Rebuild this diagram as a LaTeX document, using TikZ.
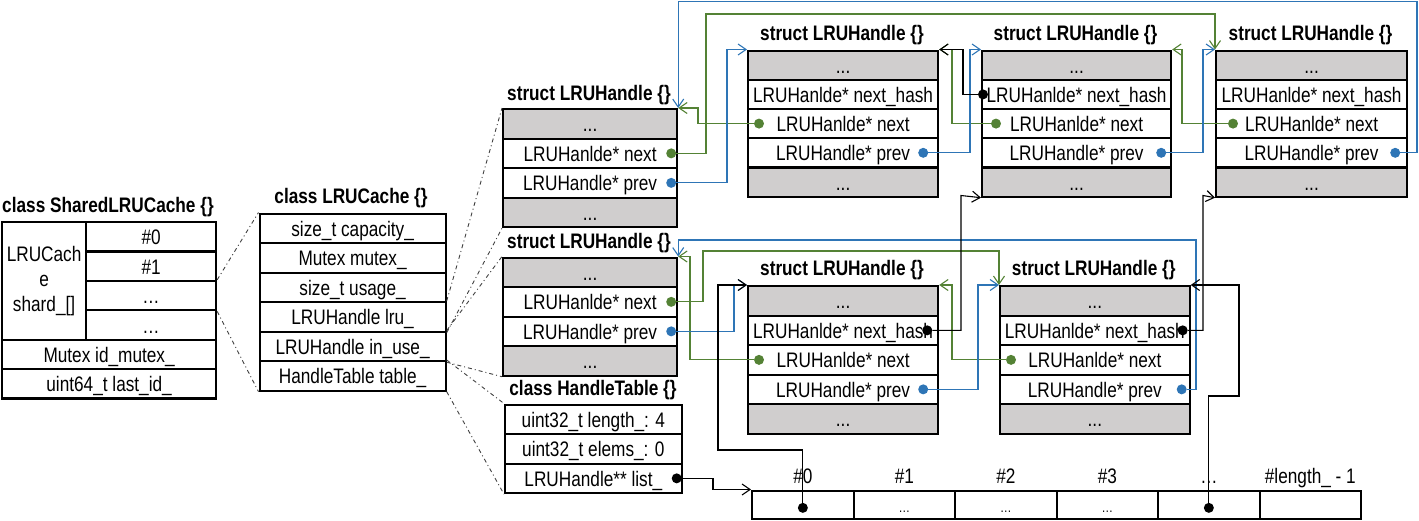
\documentclass[tikz,border=0pt]{standalone}
\usepackage{fontspec}
\setmainfont{Liberation Sans}[FakeStretch=0.82]
\usepackage{tikz}
\usetikzlibrary{arrows.meta,positioning}

\definecolor{cellgray}{RGB}{208,206,206}
\definecolor{nextgreen}{RGB}{84,130,53}
\definecolor{prevblue}{RGB}{46,117,182}

\tikzset{
  box/.style={draw, line width=2.2pt, inner sep=0pt, anchor=north west,
    font=\fontsize{21}{25}\selectfont},
  row/.style={box, minimum height=29.5pt, text height=18pt, text depth=2pt},
  filler/.style={row, fill=cellgray},
  title/.style={inner sep=0pt, font=\bfseries\fontsize{21}{25}\selectfont},
  dot/.style={circle, fill, inner sep=0pt, minimum size=10pt},
  link/.style={line width=1.1pt, -{Straight Barb[length=8pt,width=11pt]}},
  zoomline/.style={dash pattern=on 4pt off 3pt on 1pt off 3pt, line width=0.9pt, black!75}
}

\begin{document}
\begin{tikzpicture}[x=1pt,y=-1pt]
\useasboundingbox (0,0) rectangle (1419,520);

% class SharedLRUCache
\node[title] (sh-t) at (108,207) {class SharedLRUCache \{\}};
\node[box, minimum width=84pt, minimum height=117.6pt, align=center] (sh-0) at (1,221) {LRUCach\\e\\shard\_[]};
\foreach \t [count=\i] in {\#0,\#1,\ldots,\ldots}
  \node[row, minimum width=130pt, minimum height=29.4pt] (sh-\i) at (85,{221+29.4*(\i-1)}) {\t};
\node[row, minimum width=214pt, minimum height=29.4pt] (sh-5) at (1,338.6) {Mutex id\_mutex\_};
\node[row, minimum width=214pt, minimum height=29.4pt] (sh-6) at (1,368) {uint64\_t last\_id\_};

% class LRUCache
\node[title] (lc-t) at (351,198) {class LRUCache \{\}};
\foreach \t [count=\i] in {size\_t capacity\_,Mutex mutex\_,size\_t usage\_,LRUHandle lru\_,LRUHandle in\_use\_,HandleTable table\_}
  \node[row, minimum width=186pt] (lc-\i) at (258.5,{212.5+29.5*(\i-1)}) {\t};

% list heads lru_ and in_use_
\foreach \b/\y/\ty in {s1/108/95, s2/256.5/243} {
  \node[title] (\b-t) at (589,\ty) {struct LRUHandle \{\}};
  \node[filler, minimum width=174pt] (\b-1) at (502,\y) {...};
  \node[row, minimum width=174pt] (\b-2) at (502,{\y+29.5}) {LRUHanlde* next};
  \node[row, minimum width=174pt] (\b-3) at (502,{\y+59}) {LRUHandle* prev};
  \node[filler, minimum width=174pt] (\b-4) at (502,{\y+88.5}) {...};
}

% class HandleTable
\node[title] (ht-t) at (593,390) {class HandleTable \{\}};
\foreach \t [count=\i] in {uint32\_t length\_: 4,uint32\_t elems\_: 0,LRUHandle** list\_}
  \node[row, minimum width=176.5pt] (ht-\i) at (504,{403.5+29.5*(\i-1)}) {\t};

% entries
\foreach \b/\x/\y/\w/\h in {A/747/49.5/190pt/29.2, B/981/49.5/189pt/29.2, C/1215/49.5/191pt/29.2,
                            D/747/285/190pt/29.5, E/999/285/189.5pt/29.5} {
  \node[title] (\b-t) at ({\x+0.5*\w},{\y-14.5}) {struct LRUHandle \{\}};
  \node[filler, minimum width=\w, minimum height=\h pt] (\b-1) at (\x,\y) {...};
  \node[row, minimum width=\w, minimum height=\h pt] (\b-2) at (\x,{\y+\h}) {LRUHanlde* next\_hash};
  \node[row, minimum width=\w, minimum height=\h pt] (\b-3) at (\x,{\y+2*\h}) {LRUHanlde* next};
  \node[row, minimum width=\w, minimum height=\h pt] (\b-4) at (\x,{\y+3*\h}) {LRUHandle* prev};
  \node[filler, minimum width=\w, minimum height=\h pt] (\b-5) at (\x,{\y+4*\h}) {...};
}

% bucket array
\foreach \i in {0,...,5}
  \node[row, minimum width=101.5pt, minimum height=28.5pt, font=\fontsize{14}{16}\selectfont]
    (arr-\i) at ({751+101.5*\i},489.5) {\ifnum\i>0 \ifnum\i<4 \ldots\fi\fi};
\foreach \t [count=\i from 0] in {\#0,\#1,\#2,\#3,\ldots,\#length\_ - 1}
  \node[anchor=base, inner sep=0pt, font=\fontsize{21}{25}\selectfont] (lab-\i) at ([yshift=6pt]arr-\i.north) {\t};

% zoom lines
\draw[zoomline] (sh-3.north east) -- (lc-1.north west);
\draw[zoomline] (sh-3.south east) -- (lc-6.south west);
\draw[zoomline] (lc-4.north east) -- (s1-1.north west);
\draw[zoomline] (lc-4.south east) -- (s1-4.south west);
\draw[zoomline] (lc-5.north east) -- (s2-1.north west);
\draw[zoomline] (lc-5.south east) -- (s2-4.south west);
\draw[zoomline] (lc-6.north east) -- (ht-1.north west);
\draw[zoomline] (lc-6.south east) -- (ht-3.south west);

% pointer dots
\node[dot, nextgreen] (s1n) at ([xshift=-7pt]s1-2.east) {};
\node[dot, prevblue] (s1p) at ([xshift=-7pt]s1-3.east) {};
\node[dot, nextgreen] (s2n) at ([xshift=-7pt]s2-2.east) {};
\node[dot, prevblue] (s2p) at ([xshift=-7pt]s2-3.east) {};
\node[dot, nextgreen] (An) at ([xshift=12pt]A-3.west) {};
\node[dot, prevblue] (Ap) at ([xshift=-16pt]A-4.east) {};
\node[dot] (Bh) at ([xshift=2pt]B-2.west) {};
\node[dot, nextgreen] (Bn) at ([xshift=15pt]B-3.west) {};
\node[dot, prevblue] (Bp) at ([xshift=-11pt]B-4.east) {};
\node[dot, nextgreen] (Cn) at ([xshift=18pt]C-3.west) {};
\node[dot, prevblue] (Cp) at ([xshift=-13pt]C-4.east) {};
\node[dot] (Dh) at ([xshift=-12pt]D-2.east) {};
\node[dot, nextgreen] (Dn) at ([xshift=12pt]D-3.west) {};
\node[dot, prevblue] (Dp) at ([xshift=-16pt]D-4.east) {};
\node[dot] (Eh) at ([xshift=-8pt]E-2.east) {};
\node[dot, nextgreen] (En) at ([xshift=12pt]E-3.west) {};
\node[dot, prevblue] (Ep) at ([xshift=-9pt]E-4.east) {};
\node[dot] (htl) at ([xshift=-6pt]ht-3.east) {};
\node[dot] (a0) at ([yshift=-3pt]arr-0.center) {};
\node[dot] (a4) at ([yshift=-3pt]arr-4.center) {};

% next
\draw[link, nextgreen] (s1n) -| (706,14) -| (C-1.north west);
\draw[link, nextgreen] (An) -| (698,108) -- (s1-1.north east);
\draw[link, nextgreen] (Bn) -| (952,49.5) -- (A-1.north east);
\draw[link, nextgreen] (Cn) -| (1182,49.5) -- (B-1.north east);
\draw[link, nextgreen] (s2n) -| (703,251) -| (E-1.north west);
\draw[link, nextgreen] (Dn) -| (690,256.5) -- (s2-1.north east);
\draw[link, nextgreen] (En) -| (952,285) -- (D-1.north east);

% prev
\draw[link, prevblue] (s1p) -| (727,49.5) -- (A-1.north west);
\draw[link, prevblue] (Ap) -| (970,49.5) -- (B-1.north west);
\draw[link, prevblue] (Bp) -| (1203,49.5) -- (C-1.north west);
\draw[link, prevblue] (Cp) -| (1417,1.5) -| (s1-1.north east);
\draw[link, prevblue] (s2p) -| (734,285) -- (D-1.north west);
\draw[link, prevblue] (Dp) -| (978,285) -- (E-1.north west);
\draw[link, prevblue] (Ep) -| (1196,240) -| (s2-1.north east);

% next_hash and buckets
\draw[link] (Bh) -| (963,49.5) -- (A-1.north east);
\draw[link] (Dh) -| (961,195.5) -- (B-5.south west);
\draw[link] (Eh) -| (1203,195.5) -- (C-5.south west);
\draw[link] (a4) |- (1239,396) |- (E-1.north east);
\draw[link] (a0) |- (718,450) |- (D-1.north west);
\draw[link] (htl) -| (713,489.5) -- (arr-0.north west);
\end{tikzpicture}
\end{document}
